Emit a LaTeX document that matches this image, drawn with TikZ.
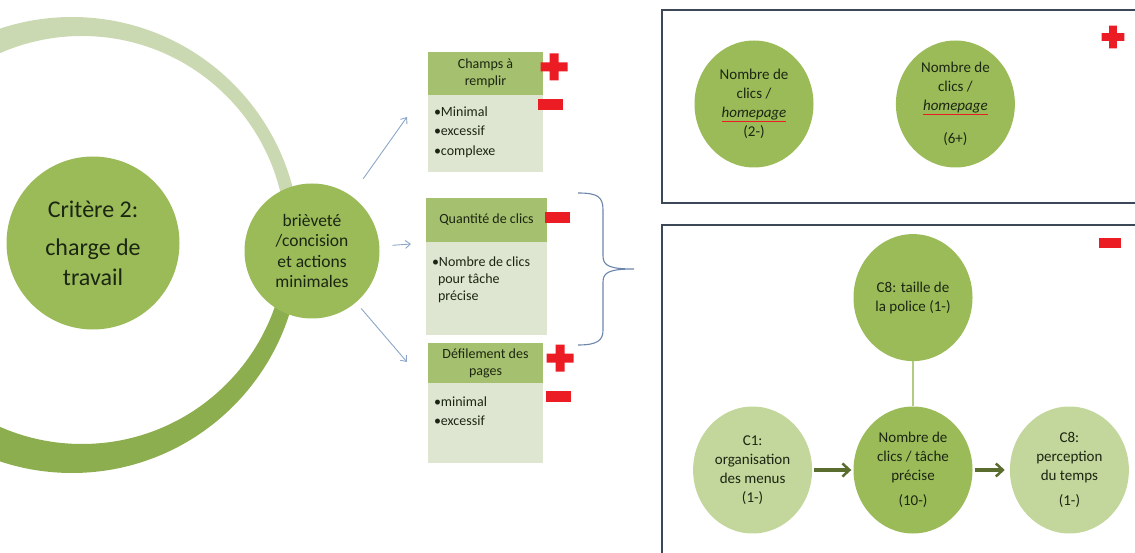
\documentclass[tikz,border=0pt]{standalone}
\usepackage{fontspec}
\setmainfont{Carlito}
\usetikzlibrary{positioning,shapes.geometric,arrows.meta}

\definecolor{leaf}{HTML}{9BBB59}
\definecolor{paleleaf}{HTML}{C3D69B}
\definecolor{headleaf}{HTML}{A5C06E}
\definecolor{bodyleaf}{HTML}{DEE5D0}
\definecolor{ringlight}{HTML}{CBD9B2}
\definecolor{ringdark}{HTML}{8DAE4E}
\definecolor{skyline}{HTML}{8CA6C8}
\definecolor{braceblue}{HTML}{6B86AA}
\definecolor{frame}{HTML}{3C4858}
\definecolor{signred}{HTML}{EC1C24}
\definecolor{olive}{HTML}{5A6D2F}
\definecolor{ink}{HTML}{1B2612}

\newcommand\spellwave[1]{\textcolor{signred}{\underline{\textcolor{ink}{#1}}}}

\begin{document}
\begin{tikzpicture}[x=1pt,y=-1pt,>={Straight Barb[length=5pt,width=8pt]},
    bubble/.style={circle,fill=leaf,text=ink,align=center,inner sep=0pt},
    oval/.style={ellipse,fill=leaf,text=ink,align=center,inner sep=0pt,minimum width=119pt,minimum height=127pt,font=\fontsize{15}{19}\selectfont},
    head/.style={fill=headleaf,text=ink,align=center,minimum width=115pt,inner sep=0pt,font=\fontsize{14}{17}\selectfont},
    body/.style={fill=bodyleaf,text=ink,inner xsep=6pt,inner ysep=0pt,font=\fontsize{14}{17}\selectfont},
    thin arrow/.style={->,skyline,line width=0.9pt},
    fat arrow/.style={-{Straight Barb[length=7pt,width=13pt,line width=2.5pt]},olive,line width=3.5pt},
    panel/.style={draw=frame,line width=1.8pt},
    plusmark/.pic={\fill[signred] (-13.5,-4.5) rectangle (13.5,4.5) (-4.5,-13.5) rectangle (4.5,13.5);},
    minusmark/.pic={\fill[signred] (-12.5,-5.5) rectangle (12.5,5.5);}]

                        \useasboundingbox (0,0) rectangle (1135,553);
                        \clip (0,0) rectangle (1135,553);

                        \begin{scope}
                        \clip (-10,-10) rectangle (400,248);
                        \fill[ringlight,even odd rule] (72,245) circle (228) (82,240) circle (204);
                        \end{scope}
                        \begin{scope}
                        \clip (-10,248) rectangle (400,600);
                        \fill[ringdark,even odd rule] (72,245) circle (228) (82,240) circle (204);
                        \end{scope}

                        \node[bubble,minimum size=173pt,font=\fontsize{24}{30}\selectfont] (crit) at (93,243) {Critère 2:\\[8pt]charge de\\travail};
                        \node[bubble,minimum size=135pt,font=\fontsize{17.5}{20.5}\selectfont] (brev) at (312,251) {brièveté\\/concision\\et actions\\minimales};

                        \node[head,minimum height=43pt] (h1) at (485.5,73.5) {Champs à\\remplir};
                        \node[body,below=0pt of h1] (b1) {\parbox[c][77pt][t]{103pt}{\vspace*{11pt}\textbullet Minimal\\[2.5pt]\textbullet excessif\\[2.5pt]\textbullet complexe}};
                        \node[head,minimum width=121pt,minimum height=44pt] (h2) at (486.5,220) {Quantité de clics};
                        \node[body,below=0pt of h2] (b2) {\parbox[c][93pt][t]{109pt}{\vspace*{14pt}\hangindent=6pt\hangafter=1\textbullet Nombre de clics\\pour tâche\\précise\par}};
                        \node[head,minimum height=40pt] (h3) at (485.5,363) {Défilement des\\pages};
                        \node[body,below=0pt of h3] (b3) {\parbox[c][80pt][t]{103pt}{\vspace*{13pt}\textbullet minimal\\[2.5pt]\textbullet excessif}};

                        \coordinate (t1) at (407,117);
                        \coordinate (t2) at (411,244);
                        \coordinate (t3) at (407,362);
                        \draw[thin arrow,shorten <=21pt] (brev) -- (t1);
                        \draw[thin arrow,shorten <=13pt] (brev) -- (t2);
                        \draw[thin arrow,shorten <=8pt] (brev) -- (t3);

                        \draw[braceblue,line width=1.1pt] (578,193) .. controls (598,193) and (603,197) .. (603,210) -- (603,256) .. controls (603,266) and (610,269) .. (634,269) .. controls (610,269) and (603,272) .. (603,282) -- (603,330) .. controls (603,340) and (598,345) .. (578,345);

                        \pic at (554,67) {plusmark};
                        \pic at (550,105) {minusmark};
                        \pic at (557,218) {minusmark};
                        \pic at (560,358) {plusmark};
                        \pic at (558,396) {minusmark};

                        \draw[panel] (662,10) rectangle (1145,203);
                        \draw[panel] (662,225) rectangle (1145,570);
                        \pic[scale=0.85] at (1113,37) {plusmark};
                        \pic[scale=0.88] at (1110,243) {minusmark};

                        \node[oval] (hp2) at (754,104) {Nombre de\\clics /\\\textit{\spellwave{homepage}}\\(2-)};
                        \node[oval,right=82pt of hp2] (hp6) {Nombre de\\clics /\\\textit{\spellwave{homepage}}\\[14pt](6+)};

                        \node[oval] (clics) at (913,470) {Nombre de\\clics / tâche\\précise\\[6pt](10-)};
                        \node[oval,above=45pt of clics] (police) {C8: taille de\\la police (1-)};
                        \node[oval,fill=paleleaf,left=41pt of clics] (menus) {C1:\\organisation\\des menus\\(1-)};
                        \node[oval,fill=paleleaf,right=37pt of clics] (temps) {C8:\\perception\\du temps\\[6pt](1-)};

                        \draw[paleleaf!60!leaf,line width=2pt] (police) -- (clics);
                        \draw[fat arrow,shorten <=2pt,shorten >=2pt] (menus) -- (clics);
                        \draw[fat arrow,shorten <=2pt,shorten >=5pt] (clics) -- (temps);
\end{tikzpicture}
\end{document}
